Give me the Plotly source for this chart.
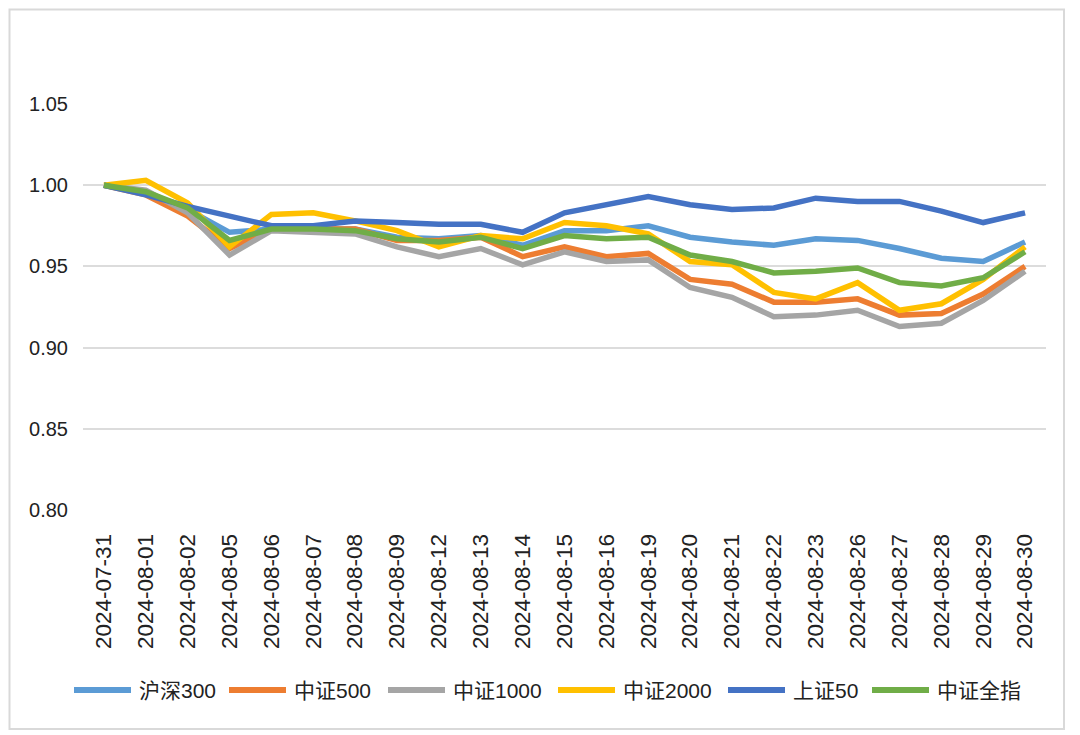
import plotly.graph_objects as go

# trading days
dates = ['2024-07-31', '2024-08-01', '2024-08-02', '2024-08-05', '2024-08-06', '2024-08-07',
         '2024-08-08', '2024-08-09', '2024-08-12', '2024-08-13', '2024-08-14', '2024-08-15',
         '2024-08-16', '2024-08-19', '2024-08-20', '2024-08-21', '2024-08-22', '2024-08-23',
         '2024-08-26', '2024-08-27', '2024-08-28', '2024-08-29', '2024-08-30']

# normalised index values
hs300 = [1.000, 0.995, 0.985, 0.971, 0.973, 0.973, 0.973, 0.968, 0.967, 0.969, 0.963, 0.972,
         0.972, 0.975, 0.968, 0.965, 0.963, 0.967, 0.966, 0.961, 0.955, 0.953, 0.965]
zz500 = [1.000, 0.994, 0.981, 0.961, 0.973, 0.973, 0.973, 0.966, 0.966, 0.968, 0.956, 0.962,
         0.956, 0.958, 0.942, 0.939, 0.928, 0.928, 0.930, 0.920, 0.921, 0.933, 0.950]
zz1000 = [1.000, 0.997, 0.983, 0.957, 0.972, 0.971, 0.970, 0.962, 0.956, 0.961, 0.951, 0.959,
          0.953, 0.954, 0.937, 0.931, 0.919, 0.920, 0.923, 0.913, 0.915, 0.929, 0.947]
zz2000 = [1.000, 1.003, 0.989, 0.962, 0.982, 0.983, 0.978, 0.972, 0.962, 0.969, 0.967, 0.977,
          0.975, 0.970, 0.953, 0.951, 0.934, 0.930, 0.940, 0.923, 0.927, 0.942, 0.962]
sz50 = [1.000, 0.994, 0.987, 0.981, 0.975, 0.975, 0.978, 0.977, 0.976, 0.976, 0.971, 0.983,
        0.988, 0.993, 0.988, 0.985, 0.986, 0.992, 0.990, 0.990, 0.984, 0.977, 0.983]
zzqz = [1.000, 0.996, 0.986, 0.966, 0.973, 0.973, 0.972, 0.967, 0.965, 0.968, 0.961, 0.969,
        0.967, 0.968, 0.957, 0.953, 0.946, 0.947, 0.949, 0.940, 0.938, 0.943, 0.959]

names = ['沪深300', '中证500', '中证1000', '中证2000', '上证50', '中证全指']
series = [hs300, zz500, zz1000, zz2000, sz50, zzqz]
colors = ['#5B9BD5', '#ED7D31', '#A5A5A5', '#FFC000', '#4472C4', '#70AD47']

FONT = 'Liberation Sans, Noto Sans CJK SC, sans-serif'
OFF = 8  # page body margin
W, H = 1080 - OFF, 735 - OFF
L, R, T, B = 83 - OFF, 1046 - OFF, 104 - OFF, 510 - OFF  # plot area in pixels


def px_x(p):
    return (p - OFF - L) / (R - L)


def px_y(p):
    return (B - (p - OFF)) / (B - T)


fig = go.Figure()
for name, vals, col in zip(names, series, colors):
    fig.add_trace(go.Scatter(x=dates, y=vals, name=name, mode='lines',
                             line=dict(color=col, width=5.5), showlegend=False))

# legend drawn by hand so the keys are as long as in the original
leg_x = [74, 229, 388, 558, 728, 872]
leg_y = 690
shapes = []
annos = []
for x0, name, col in zip(leg_x, names, colors):
    shapes.append(dict(type='line', xref='paper', yref='paper',
                       x0=px_x(x0), x1=px_x(x0 + 57), y0=px_y(leg_y), y1=px_y(leg_y),
                       line=dict(color=col, width=6)))
    annos.append(dict(text=name, xref='paper', yref='paper', x=px_x(x0 + 63), y=px_y(leg_y),
                      xanchor='left', yanchor='middle', showarrow=False,
                      font=dict(family=FONT, size=21, color='#222222')))

# outer frame (kept inside the visible page so every side shows)
shapes.append(dict(type='rect', xref='paper', yref='paper', layer='below',
                   x0=px_x(OFF + 1.5), x1=px_x(1064), y0=px_y(729), y1=px_y(OFF + 1.5),
                   line=dict(color='#D9D9D9', width=2)))

fig.update_layout(
    width=W, height=H, autosize=False,
    margin=dict(l=L, r=W - R, t=T, b=H - B),
    paper_bgcolor='white', plot_bgcolor='white',
    font=dict(family=FONT, color='#222222'),
    shapes=shapes, annotations=annos,
    xaxis=dict(type='category', range=[-0.5, len(dates) - 0.5], tickangle=-90,
               showgrid=False, showline=False, zeroline=False,
               ticks='outside', ticklen=14, tickcolor='rgba(0,0,0,0)',
               tickfont=dict(size=22.5, family=FONT, color='#222222')),
    yaxis=dict(range=[0.80, 1.05], dtick=0.05, tick0=0.8, tickformat='.2f',
               showgrid=True, gridcolor='#DCDCDC', gridwidth=2, zeroline=False,
               showline=False, ticks='outside', ticklen=10, tickcolor='rgba(0,0,0,0)',
               tickfont=dict(size=20, family=FONT, color='#222222')),
)

fig.write_html('out.html')
